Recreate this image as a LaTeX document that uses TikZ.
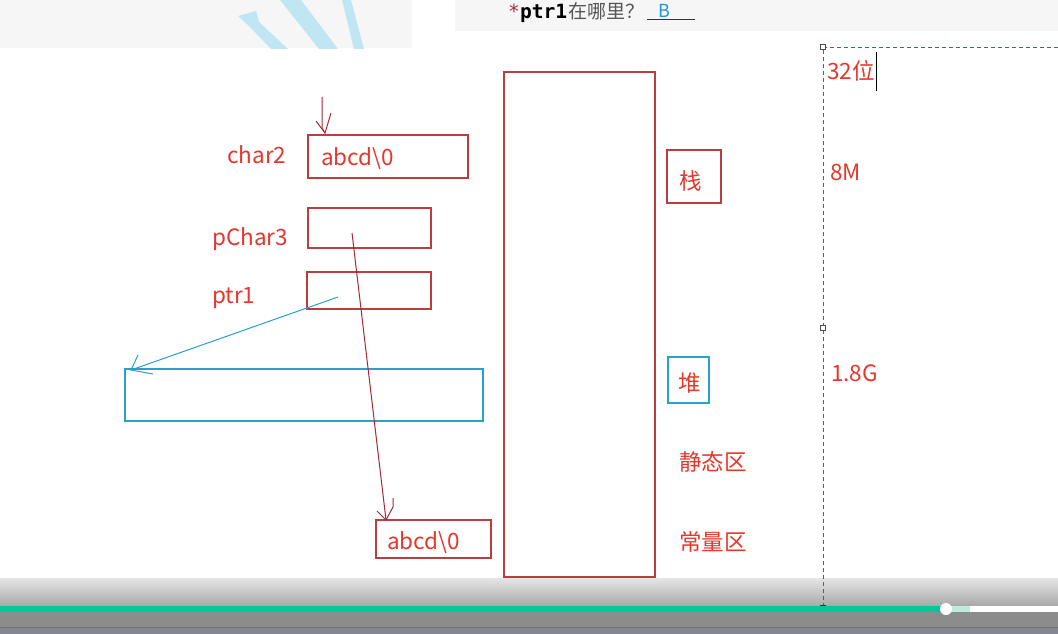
\documentclass[tikz,border=0pt]{standalone}
\usepackage{fontspec}
\setmainfont{Noto Sans CJK SC}
\newfontfamily\monof{DejaVu Sans Mono}
\definecolor{txtred}{RGB}{228,55,45}
\definecolor{boxred}{RGB}{185,62,62}
\definecolor{lnred}{RGB}{165,42,52}
\definecolor{heapblue}{RGB}{40,160,200}
\definecolor{dashc}{RGB}{35,115,140}
\definecolor{panel}{RGB}{246,246,246}
\definecolor{brush}{RGB}{192,230,244}
\definecolor{starc}{RGB}{160,50,50}
\definecolor{cngray}{RGB}{85,85,85}
\definecolor{bblue}{RGB}{30,150,220}
\definecolor{prog}{RGB}{0,200,150}
\definecolor{progl}{RGB}{185,238,222}
\begin{document}
\begin{tikzpicture}[x=1pt,y=-1pt,
  lbl/.style={text=txtred,font=\fontsize{22.5}{26}\selectfont,inner sep=0pt},
  membox/.style={draw=boxred,line width=1.1pt,inner sep=0pt},
  heapbox/.style={draw=heapblue,line width=1.1pt,inner sep=0pt},
  redln/.style={draw=lnred,line width=1pt},
  blueln/.style={draw=heapblue,line width=1pt},
  dashln/.style={draw=dashc,line width=0.9pt,dash pattern=on 4pt off 3pt},
  handle/.style={draw=black!70,fill=white,line width=0.6pt,minimum size=5pt,inner sep=0pt}]
\useasboundingbox (0,0) rectangle (1058,634);
\fill[white] (0,0) rectangle (1058,634);
% top panels
\fill[panel] (0,0) rectangle (412,48);
\fill[brush] (238,16) -- (256,11) -- (259,22) -- (288,49) -- (271,49) -- (250,27) -- cycle;
\fill[brush] (280,0) -- (301,0) -- (338,49) -- (319,49) -- cycle;
\fill[brush] (342,0) -- (351,0) -- (364,49) -- (354,49) -- cycle;
\fill[panel] (455,0) rectangle (1058,31);
\node[anchor=base west,inner sep=0pt,font=\monof\fontsize{19.6}{22}\selectfont] (q1) at (508,19) {\textcolor{starc}{*}\textbf{ptr1}};
\node[anchor=base west,inner sep=0pt,text=cngray,font=\fontsize{19}{22}\selectfont] (q2) at (568,19) {在哪里？};
\node[anchor=base west,inner sep=0pt,text=bblue,font=\fontsize{18}{22}\selectfont] (q3) at (658,18) {B};
\coordinate (ul1) at (647,20);
\coordinate (ul2) at (695,20);
\draw[black!80,line width=1pt] (ul1) -- (ul2);
% left labels and boxes
\node[lbl,anchor=base west] (lc2) at (227,163) {char2};
\node[membox,minimum width=160pt,minimum height=43pt] (c2box) at (388,156.5) {};
\node[lbl,anchor=base west] (c2val) at (321,165) {abcd\textbackslash 0};
\node[lbl,anchor=base west] (lp3) at (212,245) {pChar3};
\node[membox,minimum width=123pt,minimum height=40pt] (p3box) at (369.5,228) {};
\node[lbl,anchor=base west] (lp1) at (212,303) {ptr1};
\node[membox,minimum width=124pt,minimum height=37pt] (p1box) at (369,290.5) {};
\node[heapbox,minimum width=358pt,minimum height=52pt] (heap) at (304,395) {};
\node[membox,minimum width=115pt,minimum height=38pt] (cbox) at (433.5,539) {};
\node[lbl,anchor=base west] (cval) at (387,549) {abcd\textbackslash 0};
% arrow onto char2
\coordinate (a0) at (322,97);
\coordinate (a1) at (325,133);
\draw[redln] (a0) -- (322,128) -- (a1);
\draw[redln] (316,121) -- (a1) -- (331,113);
% pChar3 pointer
\coordinate (p3src) at (352,233);
\coordinate (p3dst) at (386,520);
\draw[redln] (p3src) -- (p3dst);
\draw[redln] (377,511) -- (p3dst) -- (393,507) -- (393,498);
% ptr1 pointer
\coordinate (p1src) at (338,297);
\coordinate (p1dst) at (131,370);
\draw[blueln] (p1src) -- (p1dst);
\draw[blueln] (138,355) -- (p1dst) -- (153,374);
% memory column
\node[membox,minimum width=151pt,minimum height=505pt] (mem) at (579.5,324.5) {};
\node[membox,minimum width=54pt,minimum height=53pt] (stk) at (694,176.5) {};
\node[lbl] (stkt) at (691,181) {栈};
\node[heapbox,minimum width=41pt,minimum height=46pt] (hp) at (688.5,380) {};
\node[lbl] (hpt) at (690,383) {堆};
\node[lbl] (sta) at (713,462) {静态区};
\node[lbl] (con) at (713,542) {常量区};
% player bar
\shade[top color=black!10,bottom color=black!35] (0,578) rectangle (1058,607);
\fill[black!45] (0,607) rectangle (1058,627);
\fill[white] (0,606) rectangle (1058,612);
\fill[progl] (946,606) rectangle (970,612);
\fill[prog] (0,606) rectangle (946,612);
\fill[white] (946,609) circle (6);
\fill[black!55] (0,627) rectangle (1058,628);
\fill[black!55!cyan!20!gray] (0,628) rectangle (1058,634);
% dashed frame
\coordinate (d0) at (823,47);
\coordinate (d1) at (1058,47);
\coordinate (d2) at (823,605);
\draw[dashln] (d1) -- (d0) -- (d2);
\draw[black!80,line width=0.8pt] (820,605) -- (826,605);
\node[handle] (h1) at (d0) {};
\node[handle] (h2) at (823,328) {};
\node[lbl,anchor=base west] (w32) at (827,80) {32位};
\draw[black,line width=1pt] (876,52) -- (876,91);
\node[lbl,anchor=base west] (m8) at (830,180) {8M};
\node[lbl,anchor=base west] (g18) at (831,381) {1.8G};
\end{tikzpicture}
\end{document}
